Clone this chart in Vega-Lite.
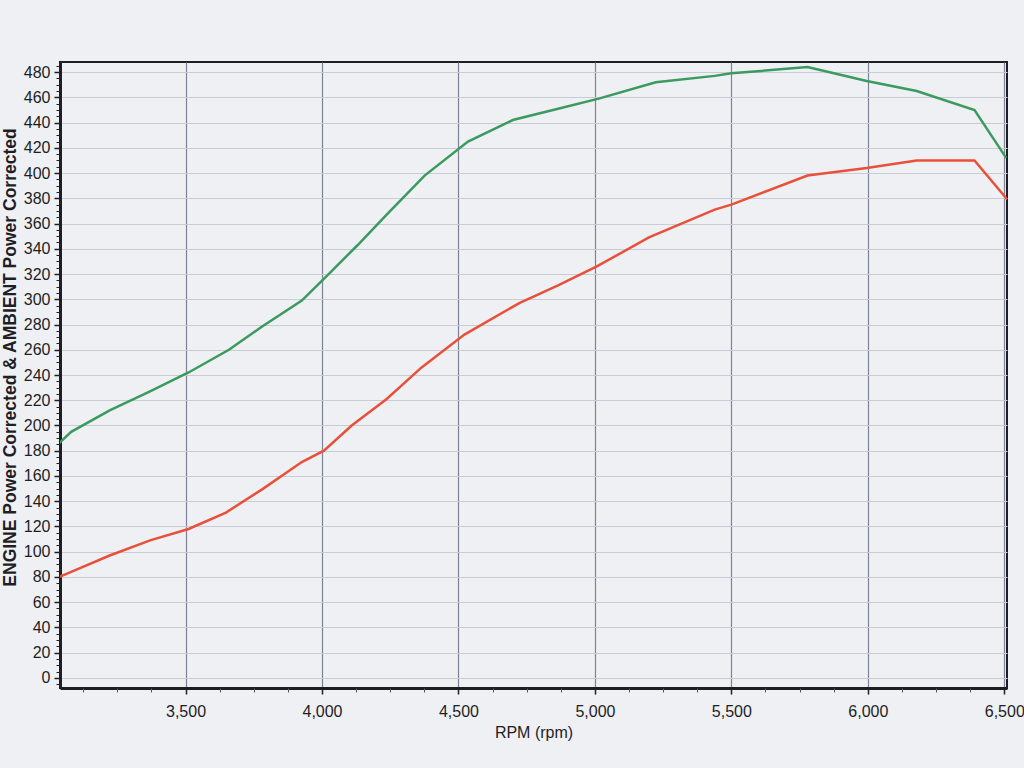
{
  "$schema": "https://vega.github.io/schema/vega-lite/v6.json",
  "width": 947,
  "height": 626,
  "autosize": {"type": "none"},
  "padding": {"left": 60, "top": 62, "right": 17, "bottom": 80},
  "background": "#eef0f4",
  "config": {
    "view": {"stroke": "#1e1e24", "strokeWidth": 2, "fill": "#eef0f4"},
    "font": "Liberation Sans",
    "axis": {"labelFont": "Liberation Sans", "titleFont": "Liberation Sans", "labelColor": "#1e1e24", "titleColor": "#1e1e24"}
  },
  "data": {
    "values": [
      {"rpm": 3037, "power": 186, "series": "ENGINE"},
      {"rpm": 3081, "power": 195, "series": "ENGINE"},
      {"rpm": 3222, "power": 212, "series": "ENGINE"},
      {"rpm": 3370, "power": 227, "series": "ENGINE"},
      {"rpm": 3511, "power": 242, "series": "ENGINE"},
      {"rpm": 3659, "power": 260, "series": "ENGINE"},
      {"rpm": 3778, "power": 278, "series": "ENGINE"},
      {"rpm": 3926, "power": 299, "series": "ENGINE"},
      {"rpm": 4029, "power": 321, "series": "ENGINE"},
      {"rpm": 4131, "power": 343, "series": "ENGINE"},
      {"rpm": 4237, "power": 367, "series": "ENGINE"},
      {"rpm": 4376, "power": 398, "series": "ENGINE"},
      {"rpm": 4535, "power": 425, "series": "ENGINE"},
      {"rpm": 4699, "power": 442, "series": "ENGINE"},
      {"rpm": 4865, "power": 451, "series": "ENGINE"},
      {"rpm": 5014, "power": 459, "series": "ENGINE"},
      {"rpm": 5223, "power": 472, "series": "ENGINE"},
      {"rpm": 5439, "power": 477, "series": "ENGINE"},
      {"rpm": 5500, "power": 479, "series": "ENGINE"},
      {"rpm": 5779, "power": 484, "series": "ENGINE"},
      {"rpm": 5996, "power": 473, "series": "ENGINE"},
      {"rpm": 6179, "power": 465, "series": "ENGINE"},
      {"rpm": 6391, "power": 450, "series": "ENGINE"},
      {"rpm": 6507, "power": 412, "series": "ENGINE"},
      {"rpm": 3037, "power": 80, "series": "AMBIENT"},
      {"rpm": 3081, "power": 84, "series": "AMBIENT"},
      {"rpm": 3222, "power": 97, "series": "AMBIENT"},
      {"rpm": 3370, "power": 109, "series": "AMBIENT"},
      {"rpm": 3511, "power": 118, "series": "AMBIENT"},
      {"rpm": 3648, "power": 131, "series": "AMBIENT"},
      {"rpm": 3778, "power": 149, "series": "AMBIENT"},
      {"rpm": 3926, "power": 171, "series": "AMBIENT"},
      {"rpm": 4007, "power": 180, "series": "AMBIENT"},
      {"rpm": 4109, "power": 200, "series": "AMBIENT"},
      {"rpm": 4237, "power": 221, "series": "AMBIENT"},
      {"rpm": 4365, "power": 246, "series": "AMBIENT"},
      {"rpm": 4522, "power": 272, "series": "AMBIENT"},
      {"rpm": 4723, "power": 297, "series": "AMBIENT"},
      {"rpm": 4865, "power": 311, "series": "AMBIENT"},
      {"rpm": 5007, "power": 326, "series": "AMBIENT"},
      {"rpm": 5198, "power": 349, "series": "AMBIENT"},
      {"rpm": 5439, "power": 371, "series": "AMBIENT"},
      {"rpm": 5500, "power": 375, "series": "AMBIENT"},
      {"rpm": 5779, "power": 398, "series": "AMBIENT"},
      {"rpm": 5996, "power": 404, "series": "AMBIENT"},
      {"rpm": 6179, "power": 410, "series": "AMBIENT"},
      {"rpm": 6391, "power": 410, "series": "AMBIENT"},
      {"rpm": 6511, "power": 379, "series": "AMBIENT"}
    ]
  },
  "layer": [
    {
      "mark": {"type": "line", "strokeWidth": 2.5, "clip": true},
      "encoding": {
        "x": {
          "field": "rpm", "type": "quantitative",
          "scale": {"domain": [3040, 6510], "nice": false, "zero": false},
          "axis": {
            "title": "RPM (rpm)", "titleFontSize": 16, "titleFontWeight": "normal", "titlePadding": 5,
            "values": [3500, 4000, 4500, 5000, 5500, 6000, 6500],
            "format": ",d", "labelFontSize": 16, "labelPadding": 9, "labelFlush": false,
            "tickSize": 6, "tickColor": "#1e1e24", "tickWidth": 1.5,
            "domainColor": "#1e1e24", "domainWidth": 3,
            "grid": true, "gridColor": "#7d8496", "gridWidth": 1.2
          }
        },
        "y": {
          "field": "power", "type": "quantitative",
          "scale": {"domain": [-8, 488], "nice": false, "zero": false},
          "axis": {
            "title": "ENGINE Power Corrected & AMBIENT Power Corrected", "titleFontSize": 17.5, "titleFontWeight": "bold", "titlePadding": 4, "titleY": 295,
            "values": [0, 20, 40, 60, 80, 100, 120, 140, 160, 180, 200, 220, 240, 260, 280, 300, 320, 340, 360, 380, 400, 420, 440, 460, 480],
            "labelFontSize": 16, "labelPadding": 4,
            "tickSize": 6, "tickColor": "#1e1e24", "tickWidth": 1.5,
            "domainColor": "#1e1e24", "domainWidth": 3,
            "grid": true, "gridColor": "#c9ccd4", "gridWidth": 1
          }
        },
        "color": {
          "field": "series", "type": "nominal",
          "scale": {"domain": ["ENGINE", "AMBIENT"], "range": ["#3b9a5e", "#e8503a"]},
          "legend": null
        }
      }
    },
    {
      "mark": {"type": "line", "opacity": 0},
      "encoding": {
        "x": {
          "field": "rpm", "type": "quantitative",
          "axis": {
            "orient": "bottom", "title": null, "labels": false, "grid": false, "domain": false,
            "values": [3125, 3250, 3375, 3625, 3750, 3875, 4125, 4250, 4375, 4625, 4750, 4875, 5125, 5250, 5375, 5625, 5750, 5875, 6125, 6250, 6375],
            "tickSize": 4, "tickColor": "#55585f", "tickWidth": 1
          }
        },
        "y": {
          "field": "power", "type": "quantitative",
          "axis": {
            "orient": "left", "title": null, "labels": false, "grid": false, "domain": false,
            "tickCount": 100, "tickSize": 4, "tickColor": "#1e1e24", "tickWidth": 1
          }
        },
        "detail": {"field": "series", "type": "nominal"}
      }
    }
  ],
  "resolve": {"axis": {"x": "independent", "y": "independent"}}
}
